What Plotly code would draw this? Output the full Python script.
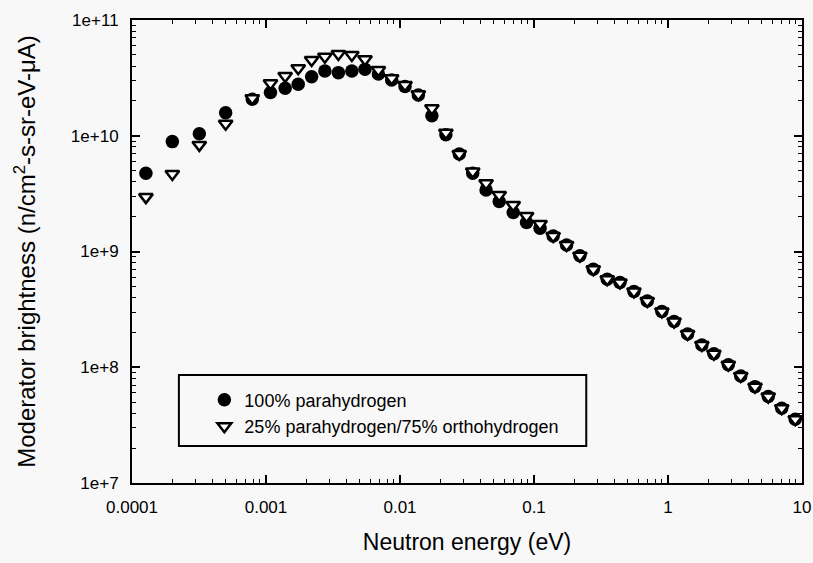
import plotly.graph_objects as go

# Neutron energy (eV)
energy = [1.27e-4, 2.0e-4, 3.18e-4, 5.0e-4, 7.9e-4, 1.08e-3, 1.39e-3, 1.74e-3, 2.19e-3,
          2.75e-3, 3.47e-3, 4.37e-3, 5.48e-3, 6.9e-3, 8.67e-3, 1.09e-2, 1.37e-2, 1.73e-2,
          2.2e-2, 2.77e-2, 3.49e-2, 4.39e-2, 5.5e-2, 7.0e-2, 8.8e-2, 0.111, 0.139, 0.175,
          0.22, 0.277, 0.352, 0.438, 0.557, 0.70, 0.90, 1.11, 1.40, 1.79, 2.2, 2.82, 3.49,
          4.46, 5.6, 7.06, 8.9]

# 100% parahydrogen
para = [4.74e9, 8.9e9, 1.04e10, 1.58e10, 2.07e10, 2.36e10, 2.57e10, 2.79e10, 3.24e10,
        3.63e10, 3.51e10, 3.63e10, 3.75e10, 3.42e10, 3.03e10, 2.66e10, 2.25e10, 1.49e10,
        1.02e10, 6.97e9, 4.74e9, 3.4e9, 2.70e9, 2.17e9, 1.78e9, 1.59e9, 1.36e9, 1.14e9,
        9.2e8, 7.03e8, 5.76e8, 5.4e8, 4.51e8, 3.74e8, 3.03e8, 2.48e8, 1.94e8, 1.56e8,
        1.31e8, 1.05e8, 8.4e7, 6.8e7, 5.58e7, 4.43e7, 3.56e7]

# 25% parahydrogen / 75% orthohydrogen
ortho = [2.95e9, 4.68e9, 8.34e9, 1.27e10, 2.11e10, 2.84e10, 3.28e10, 3.83e10, 4.52e10,
         4.82e10, 5.08e10, 4.99e10, 4.58e10, 3.70e10, 3.14e10, 2.75e10, 2.28e10, 1.73e10,
         1.06e10, 6.97e9, 4.9e9, 3.89e9, 3.08e9, 2.52e9, 2.03e9, 1.73e9, 1.36e9, 1.14e9,
         9.2e8, 7.03e8, 5.76e8, 5.4e8, 4.51e8, 3.74e8, 3.03e8, 2.48e8, 1.94e8, 1.56e8,
         1.31e8, 1.05e8, 8.4e7, 6.8e7, 5.58e7, 4.43e7, 3.56e7]

x_tickvals = [1e-4, 1e-3, 1e-2, 1e-1, 1, 10]
x_ticktext = ["0.0001", "0.001", "0.01", "0.1", "1", "10"]
y_tickvals = [1e7, 1e8, 1e9, 1e10, 1e11]
y_ticktext = ["1e+7", "1e+8", "1e+9", "1e+10", "1e+11"]

series_names = ["100% parahydrogen", "25% parahydrogen/75% orthohydrogen"]

FONT = "Arial, Liberation Sans, Helvetica, sans-serif"

x_minor = [m * 10 ** e for e in range(-4, 1) for m in range(2, 10)]
y_minor = [m * 10 ** e for e in range(7, 11) for m in range(2, 10)]

fig = go.Figure()
fig.add_trace(go.Scatter(
    x=energy, y=para, mode="markers", name=series_names[0],
    marker=dict(symbol="circle", size=13.5, color="black", line=dict(width=0)),
))
fig.add_trace(go.Scatter(
    x=energy, y=ortho, mode="markers", name=series_names[1],
    marker=dict(symbol="triangle-down", size=12, color="white",
                line=dict(width=2.5, color="black")),
))

axis_common = dict(
    type="log", showgrid=False, zeroline=False,
    showline=True, linecolor="black", linewidth=2, mirror="allticks",
    ticks="inside", ticklen=8, tickwidth=1.5, tickcolor="black",
    tickfont=dict(family=FONT, size=17, color="black"),
)

fig.update_xaxes(
    **axis_common, range=[-4, 1], tickmode="array",
    tickvals=x_tickvals, ticktext=x_ticktext, ticklabelstandoff=8,
    minor=dict(tickmode="array", tickvals=x_minor, ticks="inside", ticklen=4,
               tickwidth=1.2, tickcolor="black", showgrid=False),
    title=dict(text="Neutron energy (eV)", font=dict(family=FONT, size=23, color="black"),
               standoff=17),
)
fig.update_yaxes(
    **axis_common, range=[7, 11], tickmode="array",
    tickvals=y_tickvals, ticktext=y_ticktext, ticklabelstandoff=8,
    minor=dict(tickmode="array", tickvals=y_minor, ticks="inside", ticklen=4,
               tickwidth=1.2, tickcolor="black", showgrid=False),
    title=dict(text="Moderator brightness (n/cm<sup>2</sup>-s-sr-eV-μA)",
               font=dict(family=FONT, size=24, color="black"), standoff=28),
)

fig.add_shape(type="rect", xref="paper", yref="paper",
              x0=0.070, x1=0.678, y0=0.080, y1=0.233,
              line=dict(color="black", width=2), fillcolor="rgba(0,0,0,0)")

fig.update_layout(
    width=813, height=563,
    margin=dict(l=132, r=11, t=20, b=80, autoexpand=False),
    paper_bgcolor="#f8f8f8", plot_bgcolor="#f8f8f8",
    font=dict(family=FONT, color="black"),
    showlegend=True,
    legend=dict(x=0.108, y=0.219, xanchor="left", yanchor="top",
                bgcolor="rgba(0,0,0,0)", borderwidth=0,
                font=dict(family=FONT, size=18, color="black"),
                tracegroupgap=0, itemsizing="trace"),
)

fig.write_html("out.html")
